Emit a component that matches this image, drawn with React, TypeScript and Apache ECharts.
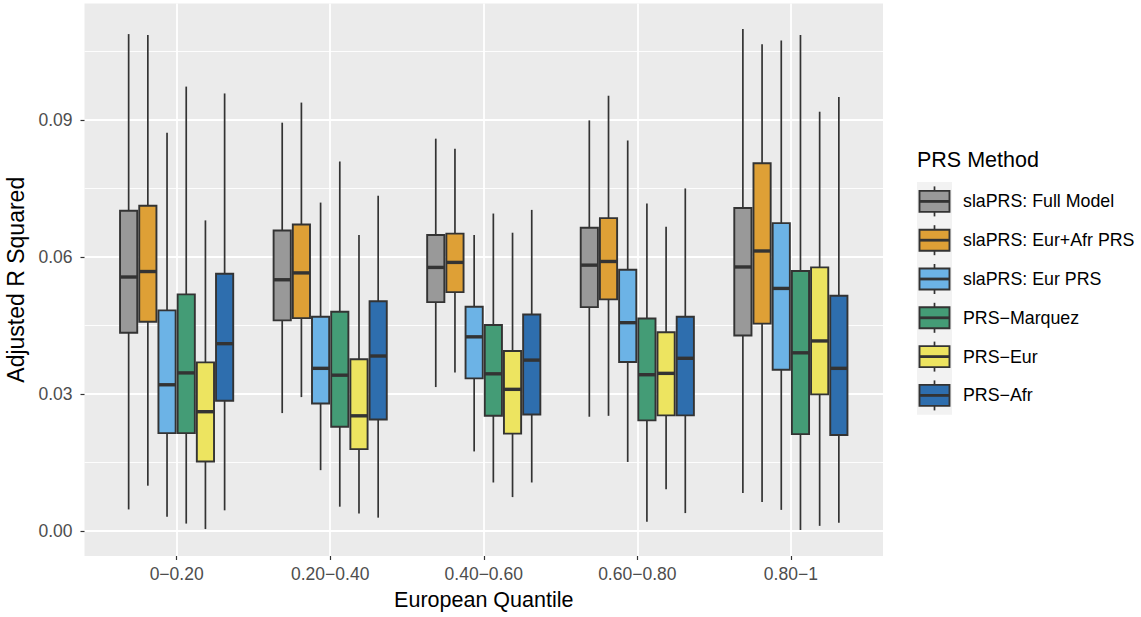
import React, { useEffect, useRef } from "react";
import * as echarts from "echarts";

// European ancestry quantile bins (x categories)
const quantiles = ["0\u22120.20", "0.20\u22120.40", "0.40\u22120.60", "0.60\u22120.80", "0.80\u22121"];

// PRS methods (one boxplot series each)
const methods = [
  "slaPRS: Full Model",
  "slaPRS: Eur+Afr PRS",
  "slaPRS: Eur PRS",
  "PRS\u2212Marquez",
  "PRS\u2212Eur",
  "PRS\u2212Afr",
];
const methodColors = ["#999999", "#DEA036", "#6CB3E6", "#449C76", "#EDE460", "#2E6EAE"];

// Box statistics per quantile bin: [lower whisker, Q1, median, Q3, upper whisker]
const fullModel = [
  [0.0047, 0.0434, 0.0556, 0.0701, 0.1088],
  [0.0258, 0.0461, 0.0550, 0.0658, 0.0894],
  [0.0315, 0.0501, 0.0577, 0.0648, 0.0859],
  [0.0250, 0.0490, 0.0582, 0.0664, 0.0899],
  [0.0083, 0.0428, 0.0578, 0.0707, 0.1099],
];
const eurAfrPrs = [
  [0.0099, 0.0458, 0.0568, 0.0712, 0.1086],
  [0.0293, 0.0466, 0.0565, 0.0671, 0.0938],
  [0.0347, 0.0523, 0.0588, 0.0651, 0.0837],
  [0.0252, 0.0507, 0.0590, 0.0685, 0.0953],
  [0.0063, 0.0454, 0.0613, 0.0805, 0.1066],
];
const eurPrs = [
  [0.0031, 0.0214, 0.0320, 0.0483, 0.0872],
  [0.0133, 0.0279, 0.0356, 0.0469, 0.0719],
  [0.0174, 0.0334, 0.0425, 0.0491, 0.0648],
  [0.0151, 0.0370, 0.0456, 0.0572, 0.0855],
  [0.0046, 0.0353, 0.0531, 0.0674, 0.1074],
];
const prsMarquez = [
  [0.0016, 0.0214, 0.0346, 0.0518, 0.0973],
  [0.0053, 0.0228, 0.0341, 0.0480, 0.0809],
  [0.0106, 0.0252, 0.0344, 0.0451, 0.0695],
  [0.0020, 0.0242, 0.0342, 0.0465, 0.0717],
  [0.0002, 0.0212, 0.0390, 0.0569, 0.1086],
];
const prsEur = [
  [0.0004, 0.0152, 0.0261, 0.0369, 0.0680],
  [0.0038, 0.0179, 0.0252, 0.0376, 0.0648],
  [0.0074, 0.0213, 0.0310, 0.0394, 0.0653],
  [0.0091, 0.0253, 0.0345, 0.0435, 0.0666],
  [0.0011, 0.0299, 0.0416, 0.0577, 0.0918],
];
const prsAfr = [
  [0.0045, 0.0285, 0.0410, 0.0563, 0.0958],
  [0.0029, 0.0244, 0.0383, 0.0503, 0.0734],
  [0.0106, 0.0255, 0.0374, 0.0474, 0.0703],
  [0.0039, 0.0253, 0.0378, 0.0469, 0.0750],
  [0.0018, 0.0210, 0.0356, 0.0515, 0.0950],
];
const methodStats = [fullModel, eurAfrPrs, eurPrs, prsMarquez, prsEur, prsAfr];

const yMajorTicks = [0, 0.03, 0.06, 0.09];
const yMinorTicks = [0.015, 0.045, 0.075, 0.105];

const FONT = "'Liberation Sans', Arial, Helvetica, sans-serif";
const OUTLINE = "#333333";
const DODGE = 0.125; // spacing between dodged boxes (category units)
const BOX_W = 0.112; // box width (category units)

export default function App() {
  const ref = useRef<HTMLDivElement>(null);

  useEffect(() => {
    if (!ref.current) return;
    const chart = echarts.init(ref.current, undefined, { renderer: "svg" });

    const series = methods.map((name, mi) => {
      const offset = (mi - (methods.length - 1) / 2) * DODGE;
      const color = methodColors[mi];
      return {
        name,
        type: "custom",
        coordinateSystem: "cartesian2d",
        clip: false,
        z: 3,
        encode: { x: 0, y: [1, 2, 3, 4, 5] },
        data: methodStats[mi].map((s, ci) => [ci, ...s]),
        renderItem: (_params: any, api: any) => {
          const x = api.value(0) + offset;
          const lo = api.coord([x, api.value(1)]);
          const q1 = api.coord([x, api.value(2)]);
          const med = api.coord([x, api.value(3)]);
          const q3 = api.coord([x, api.value(4)]);
          const hi = api.coord([x, api.value(5)]);
          const w = api.size([BOX_W, 0])[0];
          const cx = lo[0];
          return {
            type: "group",
            children: [
              {
                type: "line",
                shape: { x1: cx, y1: hi[1], x2: cx, y2: q3[1] },
                style: { stroke: OUTLINE, lineWidth: 1.7 },
              },
              {
                type: "line",
                shape: { x1: cx, y1: q1[1], x2: cx, y2: lo[1] },
                style: { stroke: OUTLINE, lineWidth: 1.7 },
              },
              {
                type: "rect",
                shape: { x: cx - w / 2, y: q3[1], width: w, height: q1[1] - q3[1] },
                style: { fill: color, stroke: OUTLINE, lineWidth: 1.9 },
              },
              {
                type: "line",
                shape: { x1: cx - w / 2, y1: med[1], x2: cx + w / 2, y2: med[1] },
                style: { stroke: OUTLINE, lineWidth: 3.4 },
              },
            ],
          };
        },
      };
    });

    // Legend drawn as boxplot key glyphs
    const legendX = 917;
    const legendTop = 182;
    const keyH = 38.8;
    const legendChildren: any[] = [
      {
        type: "text",
        x: legendX,
        y: 160,
        style: {
          text: "PRS Method",
          font: `21.5px ${FONT}`,
          fill: "#000000",
          verticalAlign: "middle",
          align: "left",
        },
      },
      {
        type: "rect",
        shape: { x: legendX, y: legendTop, width: 35, height: keyH * methods.length },
        style: { fill: "#F2F2F2" },
      },
    ];
    methods.forEach((name, mi) => {
      const cy = legendTop + keyH * mi + keyH / 2;
      const bx = legendX + 2.5;
      const bw = 30;
      const cx = bx + bw / 2;
      legendChildren.push(
        {
          type: "line",
          shape: { x1: cx, y1: cy - 15, x2: cx, y2: cy + 15 },
          style: { stroke: OUTLINE, lineWidth: 1.7 },
        },
        {
          type: "rect",
          shape: { x: bx, y: cy - 10.5, width: bw, height: 21 },
          style: { fill: methodColors[mi], stroke: OUTLINE, lineWidth: 1.9 },
        },
        {
          type: "line",
          shape: { x1: bx, y1: cy, x2: bx + bw, y2: cy },
          style: { stroke: OUTLINE, lineWidth: 2.8 },
        },
        {
          type: "text",
          x: 963,
          y: cy,
          style: {
            text: name,
            font: `17.8px ${FONT}`,
            fill: "#000000",
            verticalAlign: "middle",
            align: "left",
          },
        }
      );
    });

    chart.setOption({
      animation: false,
      textStyle: { fontFamily: FONT },
      grid: {
        show: true,
        left: 84.5,
        right: 258,
        top: 3.5,
        bottom: 61,
        backgroundColor: "#EBEBEB",
        borderWidth: 0,
        containLabel: false,
        outerBoundsMode: "none",
      },
      xAxis: {
        type: "value",
        min: -0.6,
        max: 4.6,
        name: "European Quantile",
        nameLocation: "middle",
        nameGap: 33,
        nameTextStyle: { fontSize: 21.5, color: "#000000", fontFamily: FONT, verticalAlign: "top" },
        axisLine: { show: false, onZero: false },
        axisTick: {
          show: true,
          length: 4,
          customValues: [0, 1, 2, 3, 4],
          lineStyle: { color: "#333333", width: 1.2 },
        },
        axisLabel: {
          customValues: [0, 1, 2, 3, 4],
          formatter: (v: number) => quantiles[Math.round(v)] ?? "",
          fontSize: 17.5,
          color: "#4D4D4D",
          fontFamily: FONT,
          margin: 9,
        },
        splitLine: { show: true, lineStyle: { color: "#FFFFFF", width: 1.8 } },
      },
      yAxis: [
        {
          type: "value",
          min: -0.0055,
          max: 0.1155,
          name: "Adjusted R Squared",
          nameLocation: "middle",
          nameRotate: 90,
          nameGap: 51,
          nameTextStyle: { fontSize: 23, color: "#000000", fontFamily: FONT },
          axisLine: { show: false, onZero: false },
          axisTick: {
            show: true,
            length: 4,
            customValues: yMajorTicks,
            lineStyle: { color: "#333333", width: 1.2 },
          },
          axisLabel: {
            customValues: yMajorTicks,
            formatter: (v: number) => v.toFixed(2),
            fontSize: 17.5,
            color: "#4D4D4D",
            fontFamily: FONT,
            margin: 12,
          },
          splitLine: { show: true, lineStyle: { color: "#FFFFFF", width: 1.8 } },
        },
        {
          type: "value",
          min: -0.0055,
          max: 0.1155,
          position: "left",
          offset: 0,
          axisLine: { show: false, onZero: false },
          axisTick: { show: false, customValues: yMinorTicks },
          axisLabel: { show: false, customValues: yMinorTicks },
          splitLine: { show: true, lineStyle: { color: "#FFFFFF", width: 0.9 } },
        },
      ],
      series,
      graphic: [{ type: "group", children: legendChildren }],
    });

    return () => chart.dispose();
  }, []);

  return <div ref={ref} style={{ width: 1141, height: 617, position: "absolute", left: 0, top: 0 }} />;
}
